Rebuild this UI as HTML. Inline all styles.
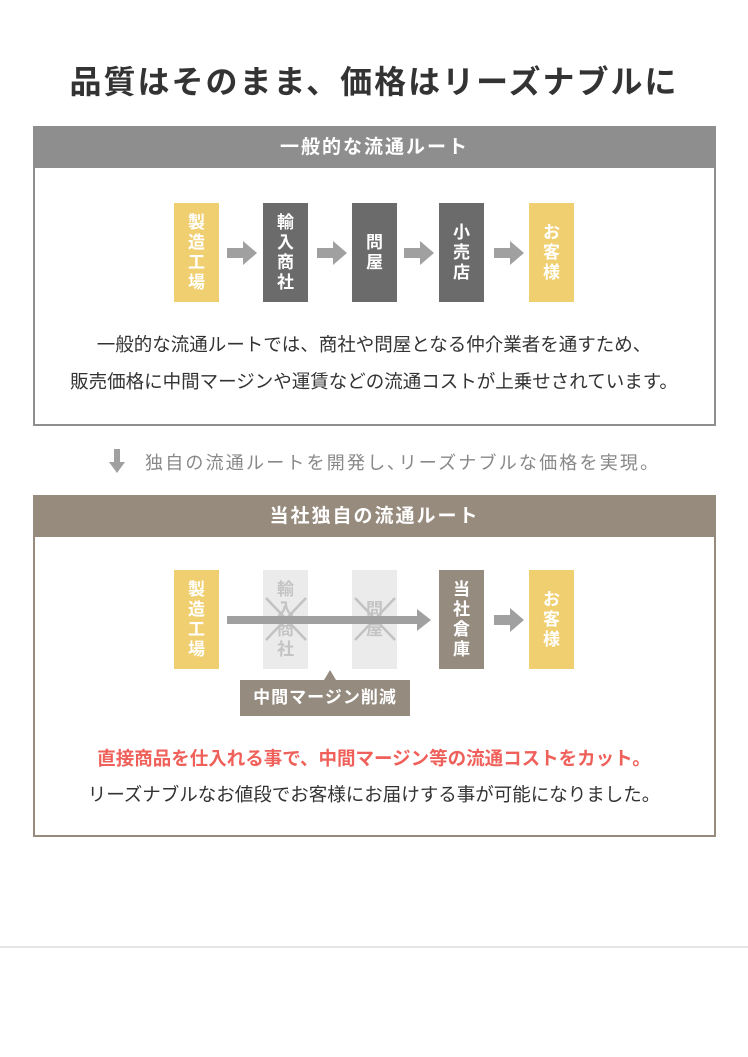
<!DOCTYPE html>
<html><head><meta charset="utf-8"><style>
body{margin:0;width:748px;height:1057px;background:#fff;position:relative;font-family:"Liberation Sans","Noto Sans CJK JP",sans-serif;overflow:hidden}
.a{position:absolute}
.title{left:0;width:748px;top:57px;text-align:center;font-size:32px;font-weight:bold;color:#333;letter-spacing:2px}
.panel{left:33px;width:679px;border:2px solid #8e8e8e;box-sizing:content-box}
.hd{height:40px;line-height:40px;text-align:center;color:#fff;font-size:19px;font-weight:bold;letter-spacing:2px}
.bx{width:45px;height:99px;display:flex;flex-direction:column;align-items:center;justify-content:center;color:#fff;font-size:17px;font-weight:bold;line-height:20px}
.y{background:#f0cf70}.g{background:#6b6b6b}.br{background:#958b7f}.lt{background:#ebebeb;color:#c4c4c4}
.txt{left:0;width:748px;text-align:center;font-size:18.5px;color:#333}
</style></head><body>
<div class="a title">品質はそのまま、価格はリーズナブルに</div>

<div class="a panel" style="top:126px;height:296px;border-color:#8e8e8e">
<div class="hd" style="background:#8e8e8e">一般的な流通ルート</div></div>
<div class="a bx y" style="left:174px;top:203px">製<br>造<br>工<br>場</div>
<div class="a bx g" style="left:263px;top:203px">輸<br>入<br>商<br>社</div>
<div class="a bx g" style="left:352px;top:203px">問<br>屋</div>
<div class="a bx g" style="left:439px;top:203px">小<br>売<br>店</div>
<div class="a bx y" style="left:529px;top:203px">お<br>客<br>様</div>
<svg class="a" style="left:0;top:0" width="748" height="1057">
<g fill="#a0a0a0">
<path d="M227 248h16v-7l14 12-14 12v-7h-16z"/>
<path d="M317 248h16v-7l14 12-14 12v-7h-16z"/>
<path d="M404 248h16v-7l14 12-14 12v-7h-16z"/>
<path d="M494 248h16v-7l14 12-14 12v-7h-16z"/>
<path d="M114 449h6v13h5l-8 11-8-11h5z"/>
</g>
</svg>
<div class="a txt" style="top:331px">一般的な流通ルートでは、商社や問屋となる仲介業者を通すため、</div>
<div class="a txt" style="top:368px">販売価格に中間マージンや運賃などの流通コストが上乗せされています。</div>
<div class="a" style="left:145px;top:449px;font-size:18px;color:#888;letter-spacing:2.2px">独自の流通ルートを開発し､リーズナブルな価格を実現。</div>

<div class="a panel" style="top:495px;height:338px;border-color:#978b7e">
<div class="hd" style="background:#978b7e">当社独自の流通ルート</div></div>
<div class="a bx y" style="left:174px;top:570px">製<br>造<br>工<br>場</div>
<div class="a bx lt" style="left:263px;top:570px">輸<br>入<br>商<br>社</div>
<div class="a bx lt" style="left:352px;top:570px">問<br>屋</div>
<div class="a bx br" style="left:439px;top:570px">当<br>社<br>倉<br>庫</div>
<div class="a bx y" style="left:529px;top:570px">お<br>客<br>様</div>
<svg class="a" style="left:0;top:0" width="748" height="1057">
<g stroke="#c2c2c2" stroke-width="2.5">
<line x1="266" y1="598" x2="306" y2="640"/><line x1="306" y1="598" x2="266" y2="640"/>
<line x1="355" y1="598" x2="395" y2="640"/><line x1="395" y1="598" x2="355" y2="640"/>
</g>
<g fill="#a0a0a0">
<path d="M227 616h190v-7l14 11-14 11v-7h-190z"/>
<path d="M494 615h16v-7l14 12-14 12v-7h-16z"/>
</g>
<path d="M240 680h84l6-10 6 10h74v36h-170z" fill="#958b7f"/>
</svg>
<div class="a" style="left:240px;top:680px;width:170px;height:36px;line-height:36px;text-align:center;color:#fff;font-size:17px;font-weight:bold;letter-spacing:1px">中間マージン削減</div>
<div class="a txt" style="top:745px;color:#f0605a;font-weight:bold">直接商品を仕入れる事で、中間マージン等の流通コストをカット。</div>
<div class="a txt" style="top:781px">リーズナブルなお値段でお客様にお届けする事が可能になりました。</div>
<div class="a" style="left:0;top:946px;width:748px;height:2px;background:#e6e6e6"></div>
</body></html>
